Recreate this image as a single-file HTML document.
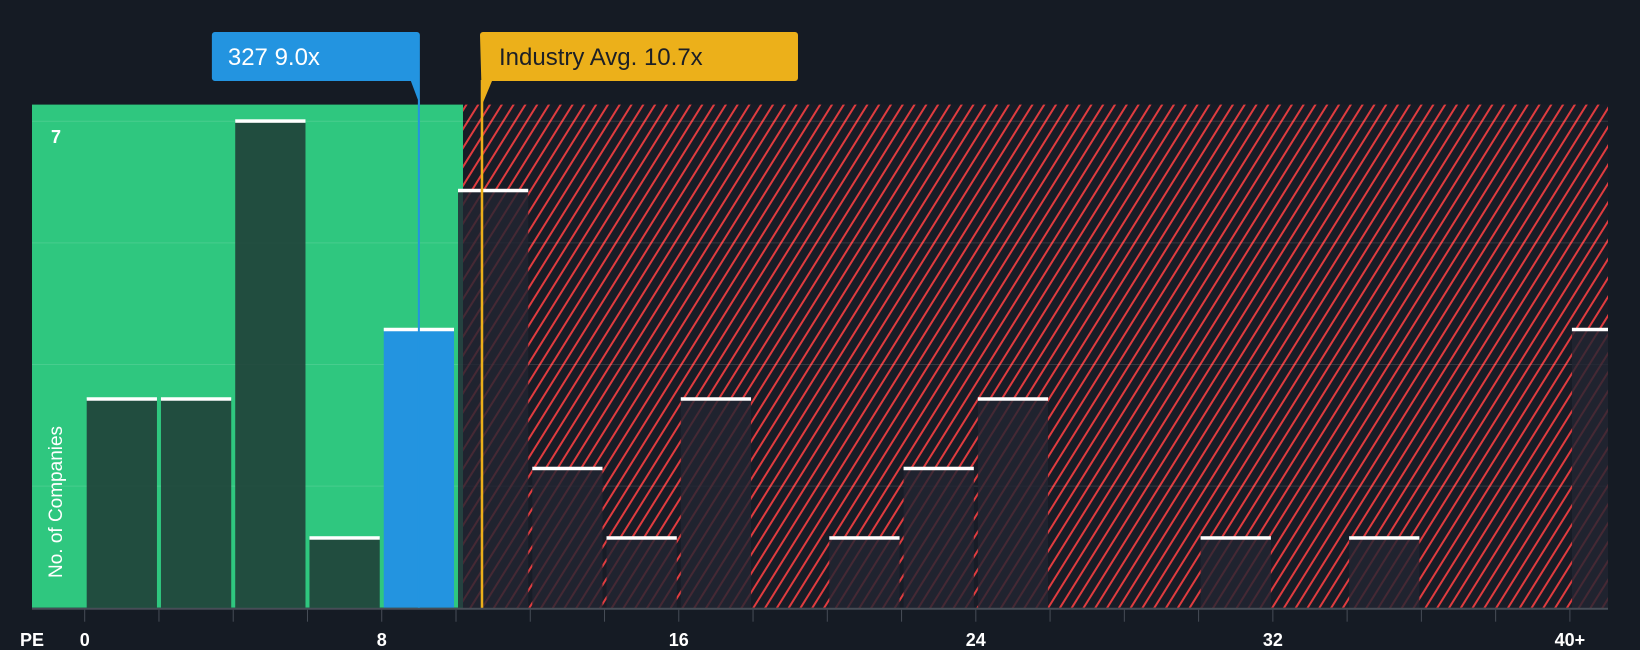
<!DOCTYPE html>
<html><head><meta charset="utf-8"><style>
html,body{margin:0;padding:0;background:#151b24;}
svg{display:block;font-family:"Liberation Sans",sans-serif;}
</style></head><body>
<svg id="chart" width="1640" height="650" viewBox="0 0 1640 650">
<defs>
<pattern id="hatch" patternUnits="userSpaceOnUse" width="10" height="10" patternTransform="rotate(32)">
<rect width="10" height="10" fill="#181c26"/>
<line x1="1" y1="0" x2="1" y2="10" stroke="#e03c3f" stroke-width="2"/>
</pattern>
</defs>
<rect x="0" y="0" width="1640" height="650" fill="#151b24"/>
<g id="regions"></g>
<g id="grid"></g>
<g id="bars"></g>
<g id="axis"></g>
<g id="markers"></g>
</svg>
<script>
const binStarts = [0,2,4,6,8,10,12,14,16,18,20,22,24,26,28,30,32,34,36,38,40];
const counts    = [3,3,7,1,4,6,2,1,3,0,1,2,3,0,0,1,0,1,0,0,4];
const tickValues = [0,8,16,24,32,40];
const tickLabels = ['0','8','16','24','32','40+'];
const companyPE = 9.0;
const industryPE = 10.7;
const yMax = 7;

const NS='http://www.w3.org/2000/svg';
const X0=84.7, PX=37.13, Y0=607.7, YTOP=121.3, PLOTL=32, PLOTR=1608, PLOTT=104.6;
const x = v => X0 + v*PX;
const y = v => Y0 - v*(Y0-YTOP)/yMax;
function mk(tag, attrs, parent){const e=document.createElementNS(NS,tag);for(const k in attrs)e.setAttribute(k,attrs[k]);parent.appendChild(e);return e;}
const regions=document.getElementById('regions'), grid=document.getElementById('grid'), bars=document.getElementById('bars'), axis=document.getElementById('axis'), markers=document.getElementById('markers');

const split = x(industryPE) - 19;
let g1 = mk('rect',{x:PLOTL,y:PLOTT,width:split-PLOTL,height:Y0-PLOTT,fill:'#2fc77f'},regions);


let g2 = mk('rect',{x:split,y:PLOTT,width:PLOTR-split,height:Y0-PLOTT,fill:'url(#hatch)'},regions);



for(let i=1;i<=4;i++){
  const gy=y(yMax*i/4);
  const l=mk('line',{x1:PLOTL,x2:PLOTR,y1:gy,y2:gy,stroke:'rgba(255,255,255,0.12)','stroke-width':1},grid);
  
  
}

binStarts.forEach((b,i)=>{
  const c=counts[i]; if(!c) return;
  const bx = x(b)+2, bw = (b===40)? PLOTR-x(b)-2 : 2*PX-4;
  const isCompany = companyPE>=b && companyPE<b+2;
  const inGreen = bx+bw <= split+1;
  const fill = isCompany ? '#2394e0' : (inGreen ? 'rgba(30,55,52,0.85)' : 'rgba(34,37,50,0.82)');
  const r=mk('rect',{x:bx,y:y(c),width:bw,height:Y0-y(c),fill:fill},bars);
  
  
  const cap=mk('rect',{x:bx,y:y(c)-2,width:bw,height:3.5,fill:'#ffffff'},bars);
  
  
});

const al=mk('line',{x1:PLOTL,x2:PLOTR,y1:Y0+1,y2:Y0+1,stroke:'#474d57','stroke-width':2},axis);


for(let v=0; v<=40; v+=2){
  const t=mk('line',{x1:x(v),x2:x(v),y1:Y0+2,y2:Y0+14,stroke:'#474d57','stroke-width':1},axis);
  
  
}
tickValues.forEach((v,i)=>{
  const t=mk('text',{x:x(v),y:646,'text-anchor':'middle',fill:'#ffffff','font-size':18,'font-weight':'bold'},axis);
  t.textContent=tickLabels[i];
  
  
});
const pe=mk('text',{x:20,y:646,fill:'#ffffff','font-size':18,'font-weight':'bold'},axis);
pe.textContent='PE';


const yl=mk('text',{x:56,y:143,'text-anchor':'middle',fill:'#ffffff','font-size':18,'font-weight':'bold'},axis);
yl.textContent=String(yMax);


const yt=mk('text',{x:0,y:0,'text-anchor':'middle',fill:'#ffffff','font-size':19,transform:'translate(62,502) rotate(-90)'},axis);
yt.textContent='No. of Companies';



const cx=x(companyPE), ix=x(industryPE);
const cl=mk('line',{x1:cx,x2:cx,y1:100,y2:Y0,stroke:'#2394e0','stroke-width':2},markers);


const il=mk('line',{x1:ix,x2:ix,y1:80,y2:Y0,stroke:'#ecb01a','stroke-width':2.5},markers);


const cb=mk('path',{d:`M${cx-207},35 a3,3 0 0 1 3,-3 H${cx-2} a3,3 0 0 1 3,3 V105 L${cx-8},81 H${cx-204} a3,3 0 0 1 -3,-3 Z`,fill:'#2394e0'},markers);


const ct=mk('text',{x:cx-191,y:65,fill:'#ffffff','font-size':24},markers);
ct.textContent='327 9.0x';


const ib=mk('path',{d:`M${ix-2},35 a3,3 0 0 1 3,-3 H${ix+313} a3,3 0 0 1 3,3 V78 a3,3 0 0 1 -3,3 H${ix+10} L${ix},105 Z`,fill:'#ecb01a'},markers);


const it=mk('text',{x:ix+17,y:65,fill:'#1c1f26','font-size':24},markers);
it.textContent='Industry Avg. 10.7x';


</script>
</body></html>
